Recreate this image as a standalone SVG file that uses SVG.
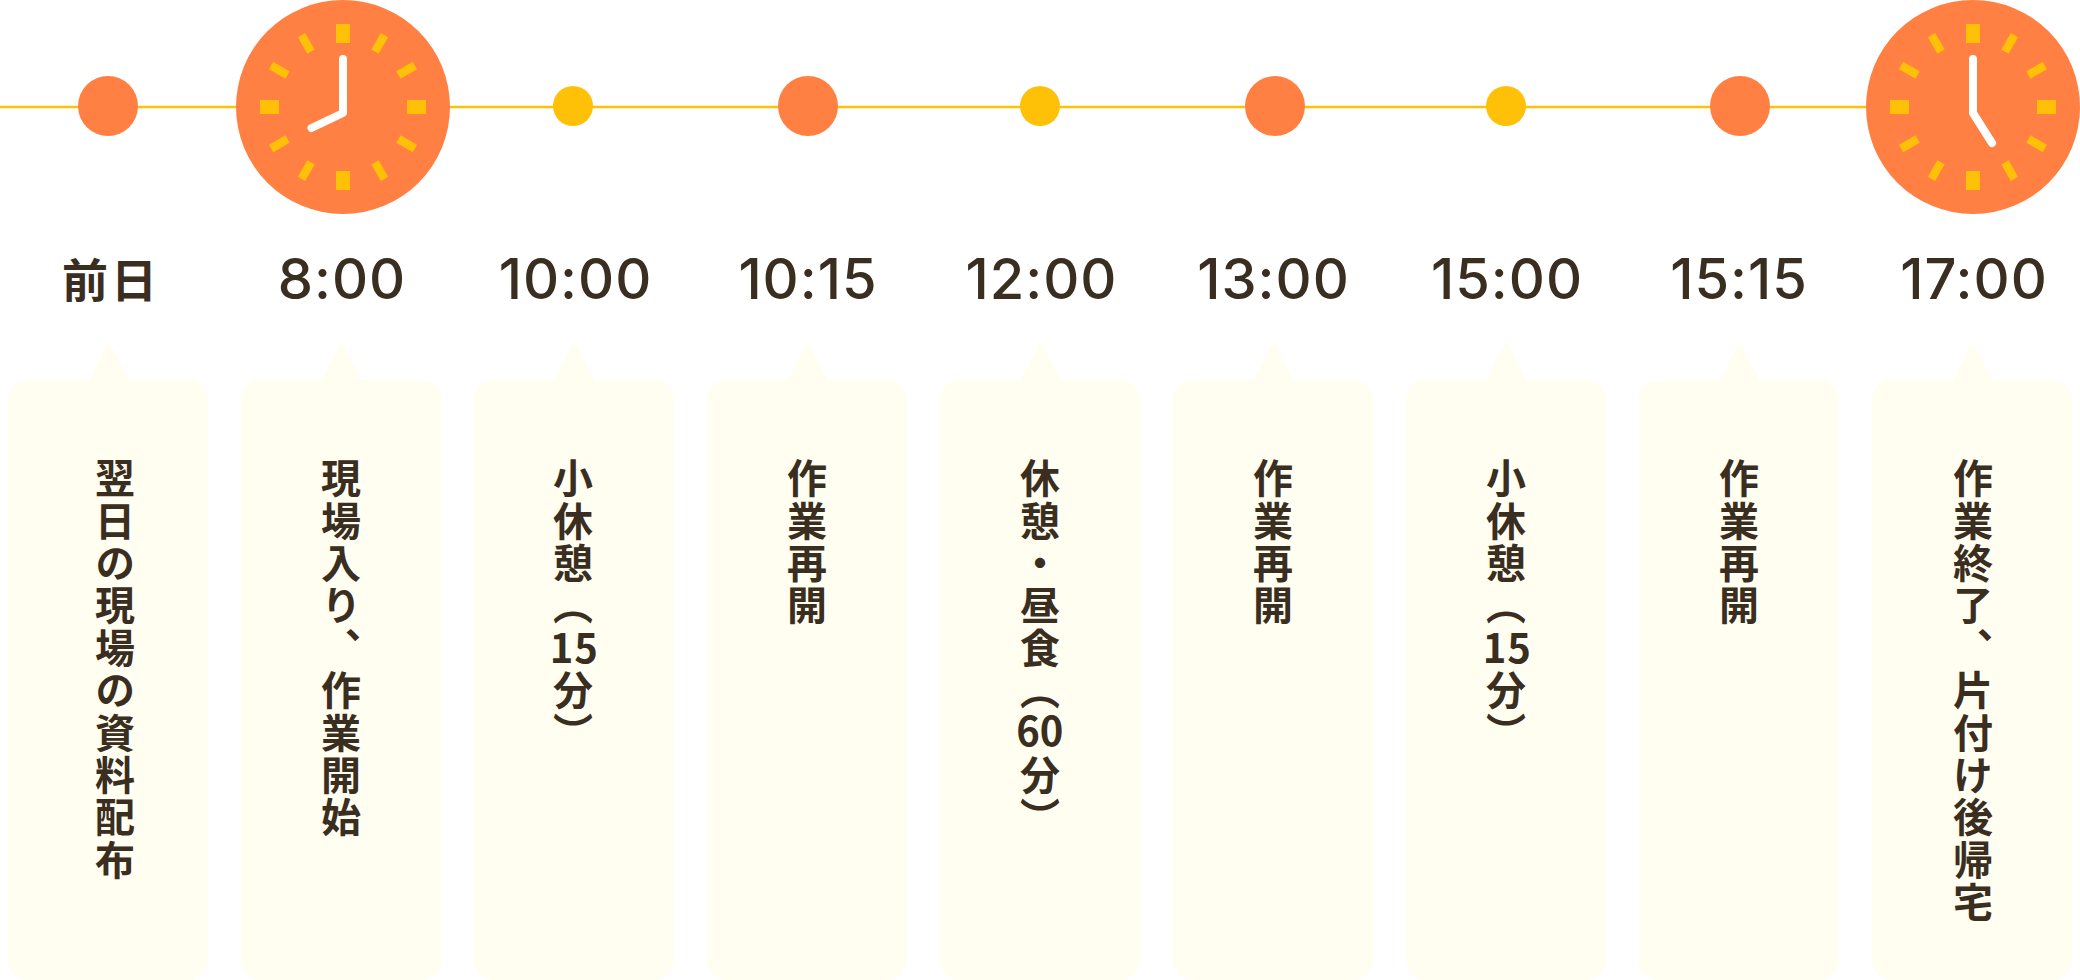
<svg xmlns="http://www.w3.org/2000/svg" width="2080" height="980" viewBox="0 0 2080 980">
<style>
.o{fill:#ff8042}.y{fill:#ffc107}.b{fill:#fffef1}
.t{font-family:"Inter","Noto Sans",sans-serif;font-size:56px;font-weight:550;fill:#3a2e21;text-anchor:middle;letter-spacing:1px}
.j{font-family:"Noto Sans CJK JP",sans-serif;font-size:46px;font-weight:700;letter-spacing:3px}
.v{font-family:"Noto Sans CJK JP","Noto Sans",sans-serif;font-size:40px;font-weight:700;fill:#3a2e21;writing-mode:vertical-rl;letter-spacing:2.400px}
.u{text-orientation:upright}
.h{fill:none;stroke:#fff;stroke-width:8;stroke-linecap:round;stroke-linejoin:round}
</style>
<defs>
<g id="face"><circle r="107" class="o"/>
<g class="y" id="ticks">
<rect x="-7" y="-83" width="14" height="19"/>
<rect x="-4.200" y="-83" width="8.400" height="19" transform="rotate(30)"/>
<rect x="-4.200" y="-83" width="8.400" height="19" transform="rotate(60)"/>
<rect x="-7" y="-83" width="14" height="19" transform="rotate(90)"/>
<rect x="-4.200" y="-83" width="8.400" height="19" transform="rotate(120)"/>
<rect x="-4.200" y="-83" width="8.400" height="19" transform="rotate(150)"/>
<rect x="-7" y="-83" width="14" height="19" transform="rotate(180)"/>
<rect x="-4.200" y="-83" width="8.400" height="19" transform="rotate(210)"/>
<rect x="-4.200" y="-83" width="8.400" height="19" transform="rotate(240)"/>
<rect x="-7" y="-83" width="14" height="19" transform="rotate(270)"/>
<rect x="-4.200" y="-83" width="8.400" height="19" transform="rotate(300)"/>
<rect x="-4.200" y="-83" width="8.400" height="19" transform="rotate(330)"/>
</g></g>
<path id="bub" class="b" d="M20 39H81L100.500 0L120.500 39H180A20 20 0 0 1 200 59V619A20 20 0 0 1 180 639H20A20 20 0 0 1 0 619V59A20 20 0 0 1 20 39Z"/>
</defs>
<g id="connectors"><line x1="0" y1="107" x2="1973" y2="107" stroke="#ffc107" stroke-width="2.400"/></g>
<g id="n0"><circle cx="108" cy="106" r="30" class="o"/><text x="111" y="297" class="t j">前日</text><use href="#bub" x="8" y="341"/><text x="115" y="458" class="v">翌日の現場の資料配布</text></g>
<g id="n1"><use href="#face" x="343" y="107"/><path class="h" d="M343 59V113L311.500 128"/><text x="342" y="299" class="t">8:00</text><use href="#bub" x="241" y="341"/><text x="341" y="458" class="v">現場入り、作業開始</text></g>
<g id="n2"><circle cx="573" cy="106" r="20" class="y"/><text x="575.500" y="299" class="t">10:00</text><use href="#bub" x="474" y="341"/><text x="573" y="458" class="v">小休憩（<tspan class="u" x="561.500 586" y="627 627">15</tspan><tspan x="573" y="670">分）</tspan></text></g>
<g id="n3"><circle cx="808" cy="106" r="30" class="o"/><text x="808" y="299" class="t">10:15</text><use href="#bub" x="707" y="341"/><text x="807" y="458" class="v">作業再開</text></g>
<g id="n4"><circle cx="1040" cy="106" r="20" class="y"/><text x="1041.500" y="299" class="t">12:00</text><use href="#bub" x="940" y="341"/><text x="1040" y="458" class="v">休憩・昼食（<tspan class="u" x="1028 1051.500" y="711 711">60</tspan><tspan x="1040" y="755">分）</tspan></text></g>
<g id="n5"><circle cx="1275" cy="106" r="30" class="o"/><text x="1273.500" y="299" class="t">13:00</text><use href="#bub" x="1173" y="341"/><text x="1273" y="458" class="v">作業再開</text></g>
<g id="n6"><circle cx="1506" cy="106" r="20" class="y"/><text x="1507" y="299" class="t">15:00</text><use href="#bub" x="1406" y="341"/><text x="1506" y="458" class="v">小休憩（<tspan class="u" x="1494.500 1519" y="627 627">15</tspan><tspan x="1506" y="670">分）</tspan></text></g>
<g id="n7"><circle cx="1740" cy="106" r="30" class="o"/><text x="1739" y="299" class="t">15:15</text><use href="#bub" x="1639" y="341"/><text x="1739" y="458" class="v">作業再開</text></g>
<g id="n8"><use href="#face" x="1973" y="107"/><path class="h" d="M1973 59V113L1992 143"/><text x="1974" y="299" class="t">17:00</text><use href="#bub" x="1872" y="341"/><text x="1973" y="458" class="v">作業終了、片付け後帰宅</text></g>
</svg>
